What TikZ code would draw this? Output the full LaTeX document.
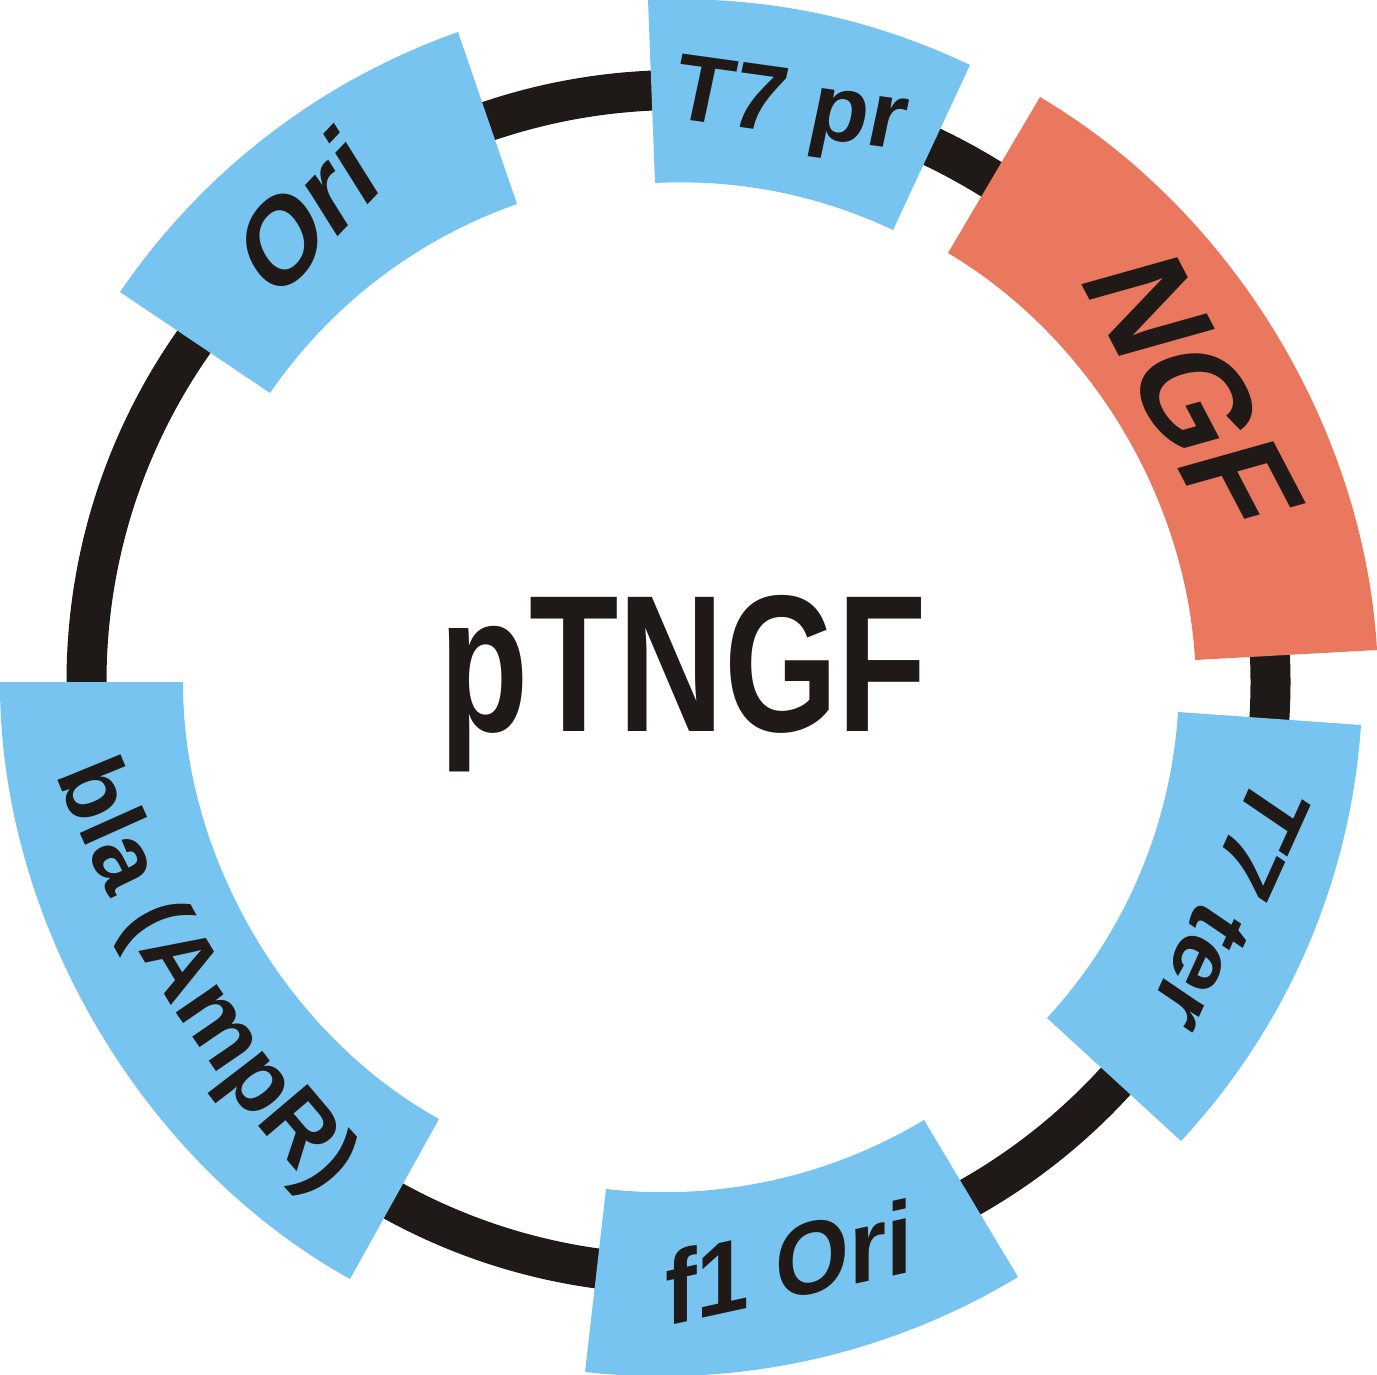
\documentclass[tikz,border=0pt]{standalone}
\usepackage{fontspec}
\usetikzlibrary{decorations.text}
\setmainfont{Liberation Sans}
\newfontfamily\labfont{Liberation Sans}
\newfontfamily\titlefont[FakeStretch=0.75]{Liberation Sans}
\definecolor{ringc}{HTML}{1F1A17}
\definecolor{bluec}{HTML}{77C4F0}
\definecolor{redc}{HTML}{E9785F}
\newcommand{\segm}[7]{\fill[#7] #1 to[bend left=#5,looseness=.88] #2 -- #3 to[bend right=#6,looseness=.88] #4 -- cycle;}
% name, origin x y (px), baseline vector x y (px), cap vector x y (px), width (em), text
\newcommand{\warplabel}[9]{%
  \pgfmathsetmacro\ma{#4/(100*#8)}%
  \pgfmathsetmacro\mb{-(#5)/(100*#8)}%
  \pgfmathsetmacro\mc{#6/68.8}%
  \pgfmathsetmacro\md{-(#7)/68.8}%
  \begin{scope}[shift={(#2,-#3)},cm={\ma,\mb,\mc,\md,(0,0)}]
    \node[transform shape,anchor=base west,inner sep=0pt,text=ringc] (#1) at (0,0)
      {\labfont\bfseries\fontsize{50}{50}\selectfont #9};
  \end{scope}}
\begin{document}
\begin{tikzpicture}[x=0.5pt,y=0.5pt]
\useasboundingbox (0,-1375) rectangle (1377,0);
\fill[white] (0,-1375) rectangle (1377,0);
\coordinate (c) at (678.5,-682);
\draw[ringc,line width=20pt] (c) circle[radius=592];
\segm{(648,0)}{(970,-65)}{(893,-230)}{(655,-183)}{14}{14}{bluec}
\segm{(1040,-97)}{(1377,-650)}{(1195,-660)}{(948,-253)}{28}{28}{redc}
\segm{(1361,-725)}{(1181,-1141)}{(1047,-1018)}{(1178,-712)}{19.5}{19.5}{bluec}
\segm{(1018,-1277)}{(585,-1372)}{(606,-1189)}{(924,-1120)}{18.7}{18.7}{bluec}
\segm{(350,-1279)}{(0,-682)}{(183,-682)}{(439,-1119)}{30.6}{30.6}{bluec}
\segm{(120,-292)}{(458,-32)}{(517,-204)}{(270,-393)}{18}{18}{bluec}
\warplabel{t7pr}{667.7}{117.7}{232.8}{32.3}{13.5}{-63.6}{2.445}{T7 pr}
\warplabel{ngf}{1077.5}{276.5}{135}{257.6}{96}{-27}{2.111}{NGF}
\warplabel{t7ter}{1258.8}{768.3}{-107.9}{238.5}{53}{36}{2.723}{T7 ter}
\warplabel{f1ori}{664.8}{1326.3}{248}{-54.3}{0}{-71}{2.612}{f1 Ori}
\warplabel{ori}{272.7}{306.3}{111.3}{-117.6}{-42}{-67}{1.445}{Ori}
\coordinate (blacentre) at (1268.5,-307.3);
\path[decorate,decoration={text along path,text align=center,text color=ringc,
  text format delimiters={|}{|},text={|\labfont\bfseries\fontsize{47}{47}\selectfont|bla (AmpR)}}]
  ([shift={(blacentre)}]197.6:1300) arc[start angle=197.6,end angle=226.6,radius=1300];
\node[anchor=base,inner sep=0pt,text=ringc] (title) at (683.5,-731) {\titlefont\bfseries\fontsize{97.5}{97.5}\selectfont pTNGF};
\end{tikzpicture}
\end{document}
